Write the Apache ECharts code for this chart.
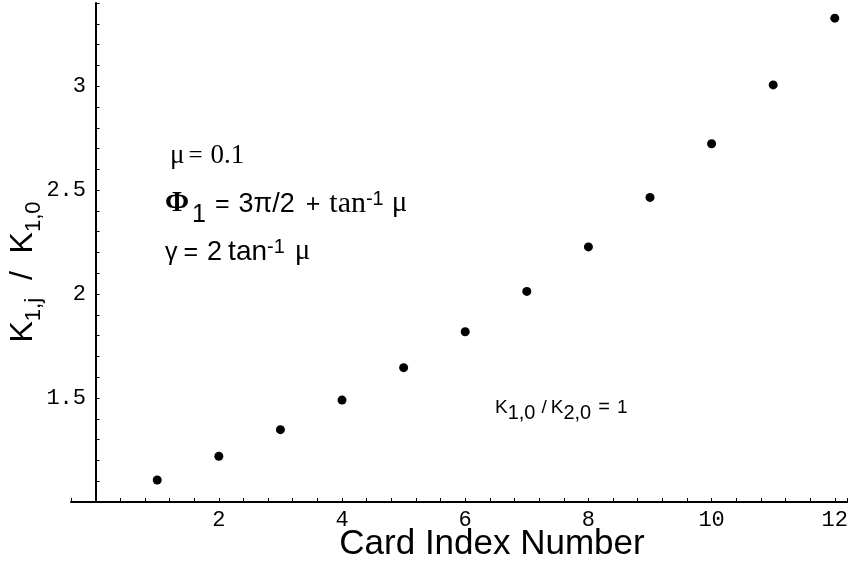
<!DOCTYPE html>
<html>
<head>
<meta charset="utf-8">
<script src="https://cdn.jsdelivr.net/npm/echarts@6/dist/echarts.min.js"></script>
<style>html,body{margin:0;padding:0;background:#fff}#c{width:851px;height:569px}</style>
</head>
<body>
<div id="c"></div>
<script>
// Data
const cardIndex = [1, 2, 3, 4, 5, 6, 7, 8, 9, 10, 11, 12];
const ratioK = [1.106, 1.22, 1.348, 1.49, 1.646, 1.819, 2.013, 2.227, 2.465, 2.723, 3.006, 3.327];
const xTickLabels = [2, 4, 6, 8, 10, 12];
const yTickLabels = [1.5, 2, 2.5, 3];

const chart = echarts.init(document.getElementById('c'), null, {renderer: 'canvas'});
const SANS = '"Liberation Sans", Arial, Helvetica, sans-serif';
const SERIF = '"Liberation Serif", "Times New Roman", serif';
const MONO = '"Liberation Mono", "Courier New", monospace';

function near(v, list) { return list.some(t => Math.abs(t - v) < 1e-6); }

// rich-text token style: baseline placed at B px below block top, shifted by `shift`
function tok(fs, family, padL, padR, shift, B, weight) {
  const top = Math.max(0, Math.round(B - 0.85 * fs + shift));
  return {fontFamily: family, fontSize: fs, fontWeight: weight || 'normal', padding: [top, padR, 0, padL], verticalAlign: 'top', fill: '#000'};
}

const option = {
  backgroundColor: '#fff',
  animation: false,
  grid: {left: 71, right: 0, top: 3, bottom: 67, containLabel: false},
  xAxis: {
    type: 'value', min: -0.4, max: 12.2, interval: 0.4,
    axisLine: {show: true, onZero: false, lineStyle: {color: '#000', width: 2}},
    axisTick: {show: true, inside: true, length: 4, lineStyle: {color: '#000', width: 1}},
    axisLabel: {
      color: '#000', fontFamily: MONO, fontSize: 22, margin: 7,
      formatter: v => near(v, xTickLabels) ? String(Math.round(v)) : ''
    },
    splitLine: {show: false}
  },
  yAxis: {
    type: 'value', min: 1, max: 3.4, interval: 0.1,
    axisLine: {show: true, onZero: true, lineStyle: {color: '#000', width: 2}},
    axisTick: {show: true, inside: true, length: 4, lineStyle: {color: '#000', width: 1}},
    axisLabel: {
      color: '#000', fontFamily: MONO, fontSize: 22, margin: -15,
      formatter: v => near(v, yTickLabels) ? String(+v.toFixed(1)) : ''
    },
    splitLine: {show: false}
  },
  series: [{
    type: 'scatter',
    data: cardIndex.map((x, i) => [x, ratioK[i]]),
    symbol: 'circle', symbolSize: 9,
    itemStyle: {color: '#000', opacity: 1}
  }],
  graphic: [
    // y axis title
    {
      type: 'text', x: 26, y: 272, rotation: Math.PI / 2,
      style: {
        text: '{k|K}{s|1,j}{k|  /  K}{s|1,0}',
        align: 'center', verticalAlign: 'middle', fill: '#000',
        rich: {
          k: {fontFamily: SANS, fontSize: 32, padding: [0, 0, 0, 0], verticalAlign: 'top', fill: '#000'},
          s: {fontFamily: SANS, fontSize: 22, padding: [15, 0, 0, 0], verticalAlign: 'top', fill: '#000'}
        }
      }
    },
    // x axis title
    {
      type: 'text', x: 492, y: 544,
      style: {text: 'Card Index Number', font: '35px ' + SANS, fill: '#000', align: 'center', verticalAlign: 'middle'}
    },
    // annotation: mu
    {
      type: 'text', x: 170, y: 137,
      style: {
        text: '{m|μ}{e|=}{n|0.1}',
        align: 'left', verticalAlign: 'top', fill: '#000',
        rich: {
          m: tok(27, SERIF, 0, 4, 0, 28),
          e: tok(25, SERIF, 0, 8, 0, 28),
          n: tok(27, SERIF, 0, 0, 0, 28)
        }
      }
    },
    // annotation: Phi_1
    {
      type: 'text', x: 165, y: 184,
      style: {
        text: '{t|Φ}{s|1}{e|=}{h|3π/2}{pl|+}{tt|tan}{p|-1}{m|μ}',
        align: 'left', verticalAlign: 'top', fill: '#000',
        rich: {
          t: tok(29, SERIF, 0, 0, 0, 30, 'bold'),
          s: tok(25, SANS, 3, 0, 10, 30),
          e: tok(25, SANS, 9, 9, 0, 30),
          h: tok(27, SANS, 0, 11, 0, 30),
          pl: tok(25, SANS, 0, 9, 0, 30),
          tt: tok(30, SERIF, 0, 0, 0, 30),
          p: tok(20, SANS, 0, 8, -8, 30),
          m: tok(29, SERIF, 0, 0, 0, 30)
        }
      }
    },
    // annotation: gamma
    {
      type: 'text', x: 165, y: 232,
      style: {
        text: '{g|γ}{e|=}{h|2}{tn|tan}{p|-1}{m|μ}',
        align: 'left', verticalAlign: 'top', fill: '#000',
        rich: {
          g: tok(25, SANS, 0, 0, 0, 30),
          e: tok(25, SANS, 6, 9, 0, 30),
          h: tok(27, SANS, 0, 6, 0, 30),
          tn: tok(28, SANS, 0, 0, 0, 30),
          p: tok(20, SANS, 0, 10, -8, 30),
          m: tok(29, SERIF, 0, 0, 0, 30)
        }
      }
    },
    // annotation: K ratio
    {
      type: 'text', x: 495, y: 397,
      style: {
        text: '{k|K}{s|1,0}{sl|/}{k|K}{s2|2,0}{eq|=}{k|1}',
        align: 'left', verticalAlign: 'top', fill: '#000',
        rich: {
          k: tok(19, SANS, 0, 0, 0, 17),
          s: tok(20, SANS, 0, 6, 6, 17),
          sl: tok(19, SANS, 0, 4, 0, 17),
          s2: tok(20, SANS, 0, 7, 6, 17),
          eq: tok(20, SANS, 0, 7, 0, 17)
        }
      }
    }
  ]
};
chart.setOption(option);
</script>
</body>
</html>
